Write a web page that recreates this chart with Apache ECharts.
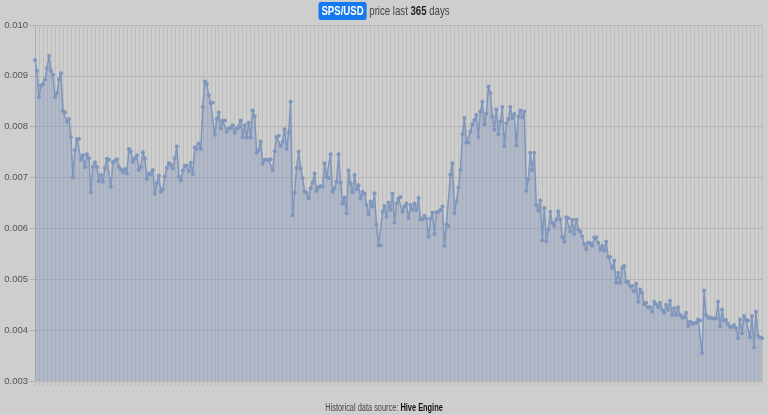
<!DOCTYPE html>
<html><head><meta charset="utf-8">
<script src="https://cdn.jsdelivr.net/npm/echarts@6/dist/echarts.min.js"></script>
<style>html,body{margin:0;padding:0;background:#cecece;}#c{width:768px;height:415px;}</style>
</head><body><div id="c"></div>
<script>
var pairName = 'SPS/USD';
var dayCount = 365;
var sourceName = 'Hive Engine';
var yTicks = [0.003, 0.004, 0.005, 0.006, 0.007, 0.008, 0.009, 0.010];
var prices = [
0.00931,0.00910,0.00858,0.00881,0.00883,0.00893,0.00915,0.00939,0.00910,0.00902,
0.00858,0.00866,0.00893,0.00905,0.00831,0.00828,0.00810,0.00815,0.00780,0.00700,
0.00754,0.00776,0.00776,0.00735,0.00744,0.00721,0.00746,0.00738,0.00671,0.00721,
0.00730,0.00721,0.00693,0.00705,0.00692,0.00719,0.00737,0.00735,0.00682,0.00730,
0.00733,0.00736,0.00721,0.00716,0.00710,0.00717,0.00708,0.00756,0.00752,0.00731,
0.00738,0.00744,0.00715,0.00721,0.00750,0.00737,0.00697,0.00708,0.00706,0.00715,
0.00668,0.00689,0.00704,0.00672,0.00677,0.00702,0.00719,0.00728,0.00725,0.00718,
0.00738,0.00761,0.00702,0.00694,0.00714,0.00723,0.00723,0.00713,0.00729,0.00707,
0.00759,0.00756,0.00767,0.00756,0.00839,0.00889,0.00884,0.00862,0.00846,0.00847,
0.00784,0.00815,0.00828,0.00797,0.00812,0.00812,0.00790,0.00797,0.00797,0.00803,
0.00788,0.00797,0.00799,0.00812,0.00780,0.00803,0.00779,0.00808,0.00779,0.00832,
0.00820,0.00749,0.00754,0.00771,0.00727,0.00735,0.00734,0.00735,0.00736,0.00715,
0.00752,0.00780,0.00782,0.00762,0.00771,0.00795,0.00756,0.00788,0.00849,0.00626,
0.00670,0.00719,0.00751,0.00718,0.00699,0.00672,0.00670,0.00659,0.00679,0.00690,
0.00708,0.00674,0.00681,0.00683,0.00682,0.00728,0.00702,0.00699,0.00746,0.00672,
0.00679,0.00692,0.00746,0.00690,0.00649,0.00661,0.00630,0.00714,0.00689,0.00671,
0.00705,0.00677,0.00685,0.00659,0.00672,0.00668,0.00646,0.00628,0.00653,0.00643,
0.00669,0.00607,0.00567,0.00567,0.00633,0.00644,0.00623,0.00651,0.00636,0.00668,
0.00611,0.00649,0.00659,0.00662,0.00633,0.00643,0.00649,0.00621,0.00646,0.00636,
0.00649,0.00636,0.00660,0.00618,0.00618,0.00625,0.00619,0.00584,0.00619,0.00631,
0.00589,0.00632,0.00633,0.00636,0.00643,0.00566,0.00608,0.00605,0.00706,0.00728,
0.00630,0.00654,0.00680,0.00715,0.00785,0.00817,0.00769,0.00769,0.00790,0.00805,
0.00813,0.00823,0.00780,0.00830,0.00849,0.00805,0.00826,0.00879,0.00866,0.00820,
0.00794,0.00834,0.00785,0.00810,0.00839,0.00762,0.00807,0.00815,0.00839,0.00817,
0.00825,0.00763,0.00820,0.00832,0.00818,0.00830,0.00674,0.00697,0.00749,0.00715,
0.00749,0.00646,0.00635,0.00655,0.00577,0.00640,0.00575,0.00598,0.00633,0.00611,
0.00605,0.00617,0.00634,0.00618,0.00583,0.00574,0.00622,0.00620,0.00594,0.00617,
0.00589,0.00617,0.00598,0.00594,0.00584,0.00569,0.00559,0.00572,0.00571,0.00566,
0.00582,0.00582,0.00572,0.00558,0.00566,0.00556,0.00574,0.00544,0.00544,0.00522,
0.00537,0.00493,0.00513,0.00493,0.00522,0.00526,0.00495,0.00495,0.00487,0.00487,
0.00476,0.00491,0.00456,0.00480,0.00473,0.00451,0.00454,0.00445,0.00445,0.00436,
0.00456,0.00451,0.00445,0.00454,0.00440,0.00434,0.00450,0.00440,0.00458,0.00430,
0.00443,0.00430,0.00445,0.00430,0.00425,0.00425,0.00434,0.00408,0.00417,0.00412,
0.00414,0.00414,0.00421,0.00419,0.00355,0.00478,0.00430,0.00425,0.00425,0.00423,
0.00423,0.00423,0.00456,0.00407,0.00440,0.00419,0.00420,0.00412,0.00406,0.00406,
0.00410,0.00404,0.00384,0.00421,0.00394,0.00428,0.00420,0.00419,0.00386,0.00428,
0.00366,0.00436,0.00389,0.00386,0.00384
];
var days = [];
for (var d = 1; d <= prices.length; d++) days.push('Day ' + d);

var FONT = "'Liberation Sans', Arial, sans-serif";
var chart = echarts.init(document.getElementById('c'), null, {renderer: 'canvas'});
chart.setOption({
  animation: false,
  backgroundColor: '#cecece',
  graphic: [{
    type: 'text', x: 384, y: 11, scaleX: 0.74, z: 10,
    style: {
      text: '{badge|' + pairName + '}{n| price last }{b|' + dayCount + '}{n| days}',
      align: 'center', verticalAlign: 'middle',
      rich: {
        badge: {backgroundColor: '#1479ef', fill: '#fff', color: '#fff', fontWeight: 'bold', fontSize: 13,
                borderRadius: 3, padding: [3, 4, 2, 4], fontFamily: FONT},
        n: {fill: '#444', color: '#444', fontSize: 13, fontWeight: 'normal', fontFamily: FONT},
        b: {fill: '#222', color: '#222', fontSize: 13, fontWeight: 'bold', fontFamily: FONT}
      }
    }
  }, {
    type: 'text', x: 384, y: 408, scaleX: 0.74, z: 10,
    style: {
      text: '{n|Historical data source: }{b|' + sourceName + '}',
      align: 'center', verticalAlign: 'middle',
      rich: {
        n: {fill: '#444', color: '#444', fontSize: 10, fontWeight: 'normal', fontFamily: FONT},
        b: {fill: '#111', color: '#111', fontSize: 10, fontWeight: 'bold', fontFamily: FONT}
      }
    }
  }],
  grid: {left: 35, right: 6, top: 25, bottom: 34, containLabel: false},
  xAxis: {
    type: 'category', data: days, boundaryGap: false,
    axisLine: {show: false},
    axisTick: {show: true, interval: 1, length: 5, lineStyle: {color: '#bcbcbc'}},
    axisLabel: {show: false},
    splitLine: {show: true, interval: 1, lineStyle: {color: '#bdbdbd', width: 1}}
  },
  yAxis: {
    type: 'value', min: yTicks[0], max: yTicks[yTicks.length - 1], interval: 0.001,
    axisLine: {show: true, lineStyle: {color: '#b0b0b0'}},
    axisTick: {show: true, length: 5, lineStyle: {color: '#b0b0b0'}},
    axisLabel: {color: '#555', fontSize: 9.5, fontFamily: FONT, margin: 7,
                formatter: function (v) { return v.toFixed(3); }},
    splitLine: {show: true, lineStyle: {color: '#b3b3b3', width: 1}}
  },
  series: [{
    type: 'line', data: prices,
    symbol: 'circle', symbolSize: 4, showAllSymbol: true,
    itemStyle: {color: '#7f96bd'},
    lineStyle: {color: '#7f96bd', width: 1.5},
    areaStyle: {color: 'rgba(115,140,185,0.45)', origin: 'start'}
  }]
});
</script></body></html>
